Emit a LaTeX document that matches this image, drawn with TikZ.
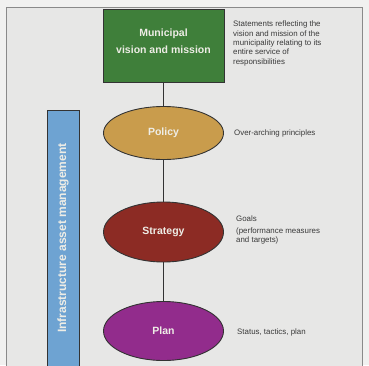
\documentclass[tikz,border=0pt]{standalone}
\usepackage{fontspec}
\setmainfont{Liberation Sans}
\usetikzlibrary{shapes.geometric}
\definecolor{pagebg}{HTML}{F1F1F0}
\definecolor{panelbg}{HTML}{E7E7E6}
\definecolor{framegray}{HTML}{8A8A8A}
\definecolor{visiongreen}{HTML}{3F7F3A}
\definecolor{policygold}{HTML}{C99C4C}
\definecolor{strategyred}{HTML}{8C2B24}
\definecolor{planpurple}{HTML}{922C8C}
\definecolor{barblue}{HTML}{6EA3D2}
\definecolor{labelwhite}{HTML}{EEEDE6}
\definecolor{notegray}{HTML}{3A3A3A}
\definecolor{linkgray}{HTML}{333333}
\tikzset{
  levelbox/.style={draw=linkgray, line width=0.9pt, fill=visiongreen,
    minimum width=121pt, minimum height=73pt, inner sep=0pt},
  levelfont/.style={text=labelwhite, font=\bfseries\fontsize{10.5}{17}\selectfont, align=center},
  levelellipse/.style={ellipse, draw=linkgray, line width=0.9pt,
    minimum width=120pt, inner sep=0pt, levelfont},
  note/.style={anchor=west, inner sep=0pt, align=left, text=notegray,
    font=\fontsize{7.9}{9.3}\selectfont},
  link/.style={draw=linkgray, line width=0.9pt}
}
\begin{document}
\begin{tikzpicture}[x=1pt, y=-1pt]
  % page and panel
  \fill[pagebg] (0,0) rectangle (369,365);
  \useasboundingbox (0,0) rectangle (369,365);
  \fill[panelbg] (6,7) rectangle (362,366);
  \draw[framegray, line width=0.8pt] (6,366) -- (6,7) -- (362,7) -- (362,366);

  % side bar
  \node[draw=linkgray, line width=0.8pt, fill=barblue, minimum width=32pt,
        minimum height=260pt, inner sep=0pt, anchor=north] (bar) at (63,110) {};
  \node[rotate=90, text=labelwhite, font=\bfseries\fontsize{12}{14}\selectfont]
        (barlabel) at (63,238) {Infrastructure asset management};

  % hierarchy
  \node[levelbox] (vision) at (163.5,45.5) {};
  \node[levelfont] (visionlabel) at (163.5,41) {Municipal\\vision and mission};
  \node[levelellipse, fill=policygold, minimum height=53pt] (policy) at (163.5,133) {Policy};
  \node[levelellipse, fill=strategyred, minimum height=60pt] (strategy) at (163.5,232) {Strategy};
  \node[levelellipse, fill=planpurple, minimum height=59pt] (plan) at (163.5,331) {Plan};

  \draw[link] (vision.south) -- (policy.north);
  \draw[link] (policy.south) -- (strategy.north);
  \draw[link] (strategy.south) -- (plan.north);

  % descriptions
  \node[note] (visionnote) at (233,43.5) {Statements reflecting the\\vision and mission of the\\municipality relating to its\\entire service of\\responsibilities};
  \node[note] (policynote) at (234,133) {Over-arching principles};
  \node[note] (strategynote) at (236,230) {Goals\\[3pt](performance measures\\and targets)};
  \node[note] (plannote) at (237,332) {Status, tactics, plan};
\end{tikzpicture}
\end{document}
